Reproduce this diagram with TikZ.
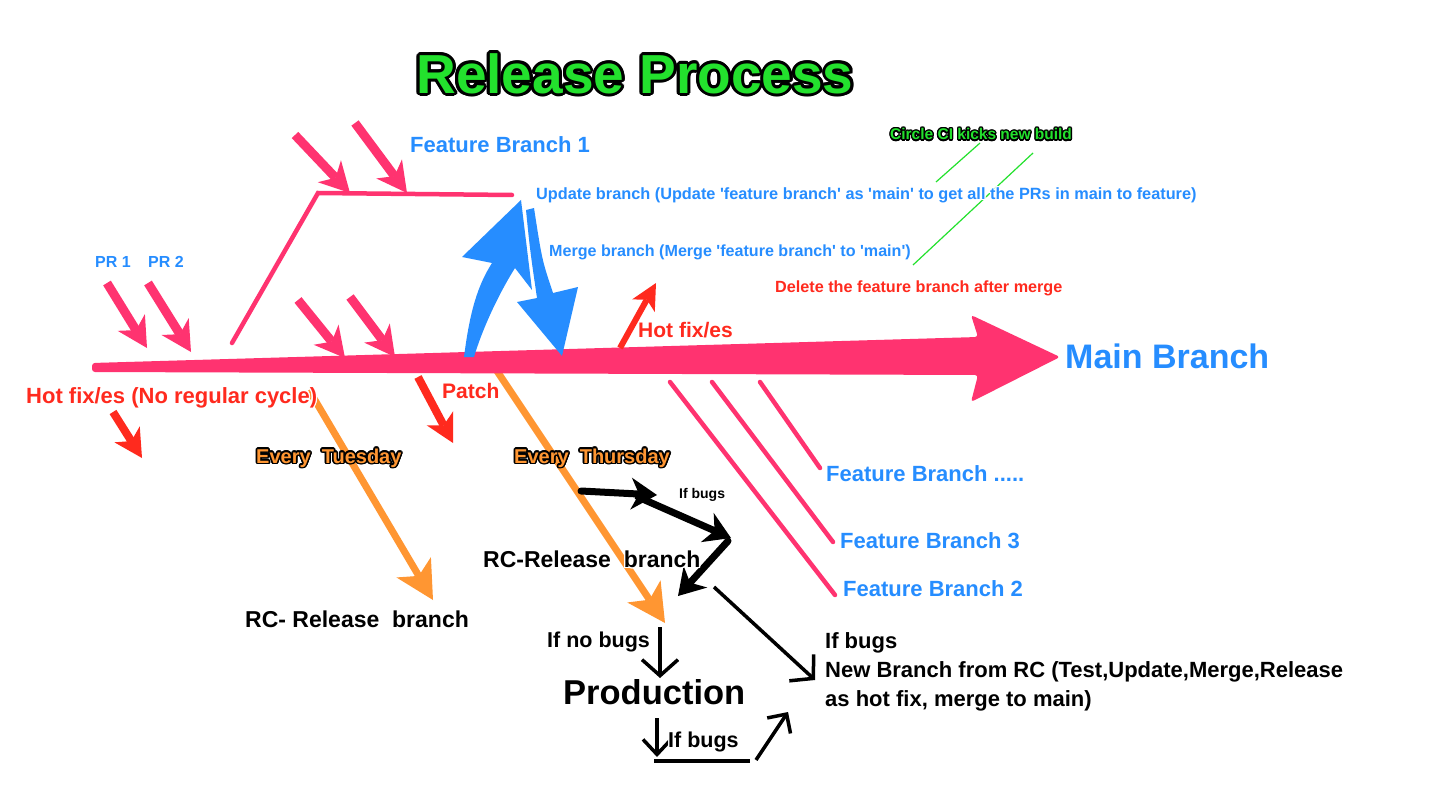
\documentclass[tikz,border=0pt]{standalone}
\usepackage{fontspec}
\setmainfont{Liberation Sans}
\usepackage{contour}
\usetikzlibrary{arrows.meta}

\definecolor{BranchPink}{RGB}{255,51,112}
\definecolor{BranchBlue}{RGB}{38,141,255}
\definecolor{FixRed}{RGB}{255,42,30}
\definecolor{CycleOrange}{RGB}{255,150,50}
\definecolor{BuildGreen}{RGB}{35,225,45}

% white halo and black outline round the glyphs
\newcommand{\halo}[1]{\contourlength{1.2pt}\contour{white}{#1}}
\newcommand{\inked}[2]{\contourlength{#1}\contour{black}{#2}}
\newcommand{\sqt}{\textquotesingle}

\tikzset{
  prarrow/.style={BranchPink, line width=9pt, -{Stealth[length=30pt,width=32pt,inset=9pt,line width=0pt]}},
  fixarrow/.style={FixRed, line width=8pt, -{Stealth[length=28pt,width=30pt,inset=8pt,line width=0pt]}},
  cyclearrow/.style={CycleOrange, line width=7pt, -{Stealth[length=38pt,width=40pt,inset=10pt,line width=0pt]}},
  bugarrow/.style={black, line width=7pt, line cap=round, -{Stealth[length=26pt,width=32pt,inset=8pt,line width=0pt]}},
  flowarrow/.style={black, line width=3.5pt, -{Straight Barb[length=16pt,width=36pt]}},
  featline/.style={BranchPink, line width=4.5pt, line cap=round},
  txt/.style={inner sep=0pt, anchor=west, font=\bfseries\fontsize{#1}{#1}\selectfont},
  bluetxt/.style={txt=#1, text=BranchBlue},
  redtxt/.style={txt=#1, text=FixRed},
  blacktxt/.style={txt=#1, text=black},
}

\begin{document}
\begin{tikzpicture}[x=1pt,y=-1pt]
\useasboundingbox[fill=white] (0,0) rectangle (1442,802);

% feature branches
\draw[featline] (232,343) -- (318,193) -- (512,195);
\draw[featline] (670,382) -- (835,595);
\draw[featline] (712,382) -- (833,542);
\draw[featline] (760,382) -- (820,468);

% release cycles
\draw[cyclearrow] (309,390) -- (433,600);
\draw[cyclearrow] (493,365) -- (665,623);

% main branch
\fill[BranchPink, rounded corners=3pt] (92,363) -- (978,337) -- (971,315) -- (1060,357) -- (971,402) -- (978,375) -- (92,372) -- cycle;

% pull requests
\draw[prarrow] (107,283) -- (147,348);
\draw[prarrow] (148,283) -- (191,352);
\draw[prarrow] (295,135) -- (350,193);
\draw[prarrow] (355,123) -- (407,193);
\draw[prarrow] (298,300) -- (345,358);
\draw[prarrow] (350,297) -- (395,357);

% hot fixes
\draw[fixarrow] (113,412) -- (142,458);
\draw[fixarrow] (418,377) -- (453,443);
\draw[FixRed, line width=6pt, -{Stealth[length=26pt,width=26pt,inset=7pt,line width=0pt]}] (620,348) -- (656,283);

% update / merge
\fill[BranchBlue] (464,357) .. controls (470,310) and (478,285) .. (492,263) -- (462,257) -- (521,200) -- (532,290) -- (515,268) .. controls (498,295) and (482,330) .. (474,357) -- cycle;
\fill[BranchBlue] (526,210) .. controls (530,250) .. (537,298) -- (517,302) -- (562,356) -- (578,287) -- (553,293) .. controls (542,260) .. (534,208) -- cycle;

% circle ci
\draw[BuildGreen, line width=1.2pt] (980,143) -- (936,182);
\draw[BuildGreen, line width=1.2pt] (1033,153) -- (913,265);

% if bugs on rc
\draw[bugarrow] (581,491) -- (657,495);
\draw[bugarrow] (638,497) -- (731,538);
\draw[bugarrow] (728,541) -- (678,596);
\draw[flowarrow] (714,587) -- (815,680);
\draw[flowarrow] (660,627) -- (660,678);
\draw[flowarrow, -{Straight Barb[length=15pt,width=28pt]}] (657,718) -- (657,757);
\draw[black, line width=3.5pt] (654,761) -- (750,761);
\draw[flowarrow, -{Straight Barb[length=14pt,width=28pt]}] (756,760) -- (788,712);

% labels
\node[txt=55, anchor=center, text=BuildGreen] (title) at (635,75) {\inked{3pt}{Release Process}};
\node[bluetxt=22] (fb1) at (410,145) {\halo{Feature Branch 1}};
\node[bluetxt=16.3] (update) at (536,196) {\halo{Update branch (Update \sqt feature branch\sqt\ as \sqt main\sqt\ to get all the PRs in main to feature)}};
\node[bluetxt=16.1] (merge) at (549,253) {\halo{Merge branch (Merge \sqt feature branch\sqt\ to \sqt main\sqt)}};
\node[redtxt=16.2] (delete) at (775,289) {\halo{Delete the feature branch after merge}};
\node[txt=15.5, text=BuildGreen] (circleci) at (890,135) {\inked{1.3pt}{Circle CI kicks new build}};
\node[redtxt=21] (hotfix) at (638,331) {\halo{Hot fix/es}};
\node[bluetxt=34] (main) at (1065,357) {\halo{Main Branch}};
\node[bluetxt=16] (pr1) at (95,263) {\halo{PR 1}};
\node[bluetxt=16] (pr2) at (148,263) {\halo{PR 2}};
\node[redtxt=22] (hotfixes) at (26,398) {\halo{Hot fix/es (No regular cycle)}};
\node[redtxt=21] (patch) at (442,392) {\halo{Patch}};
\node[txt=20, text=CycleOrange] (tuesday) at (256,459) {\inked{1.6pt}{Every~~Tuesday}};
\node[txt=20, text=CycleOrange] (thursday) at (514,459) {\inked{1.6pt}{Every~~Thursday}};
\node[bluetxt=22] (fbn) at (826,474) {\halo{Feature Branch .....}};
\node[bluetxt=22] (fb3) at (840,541) {\halo{Feature Branch 3}};
\node[bluetxt=22] (fb2) at (843,589) {\halo{Feature Branch 2}};
\node[blacktxt=23] (rctue) at (245,620) {\halo{RC- Release~~branch}};
\node[blacktxt=23] (rcthu) at (483,560) {\halo{RC-Release~~branch}};
\node[blacktxt=14] (ifbugsrc) at (679,496) {\halo{If bugs}};
\node[blacktxt=21.5] (nobugs) at (547,643) {\halo{If no bugs}};
\node[blacktxt=34.5] (prod) at (563,693) {\halo{Production}};
\node[blacktxt=21.5] (ifbugsprod) at (668,743) {\halo{If bugs}};
\node[blacktxt=22, anchor=north west, align=left, font=\bfseries\fontsize{22}{29}\selectfont] (newbranch) at (825,632)
  {\halo{If bugs}\\ \halo{New Branch from RC (Test,Update,Merge,Release}\\ \halo{as hot fix, merge to main)}};
\end{tikzpicture}
\end{document}
